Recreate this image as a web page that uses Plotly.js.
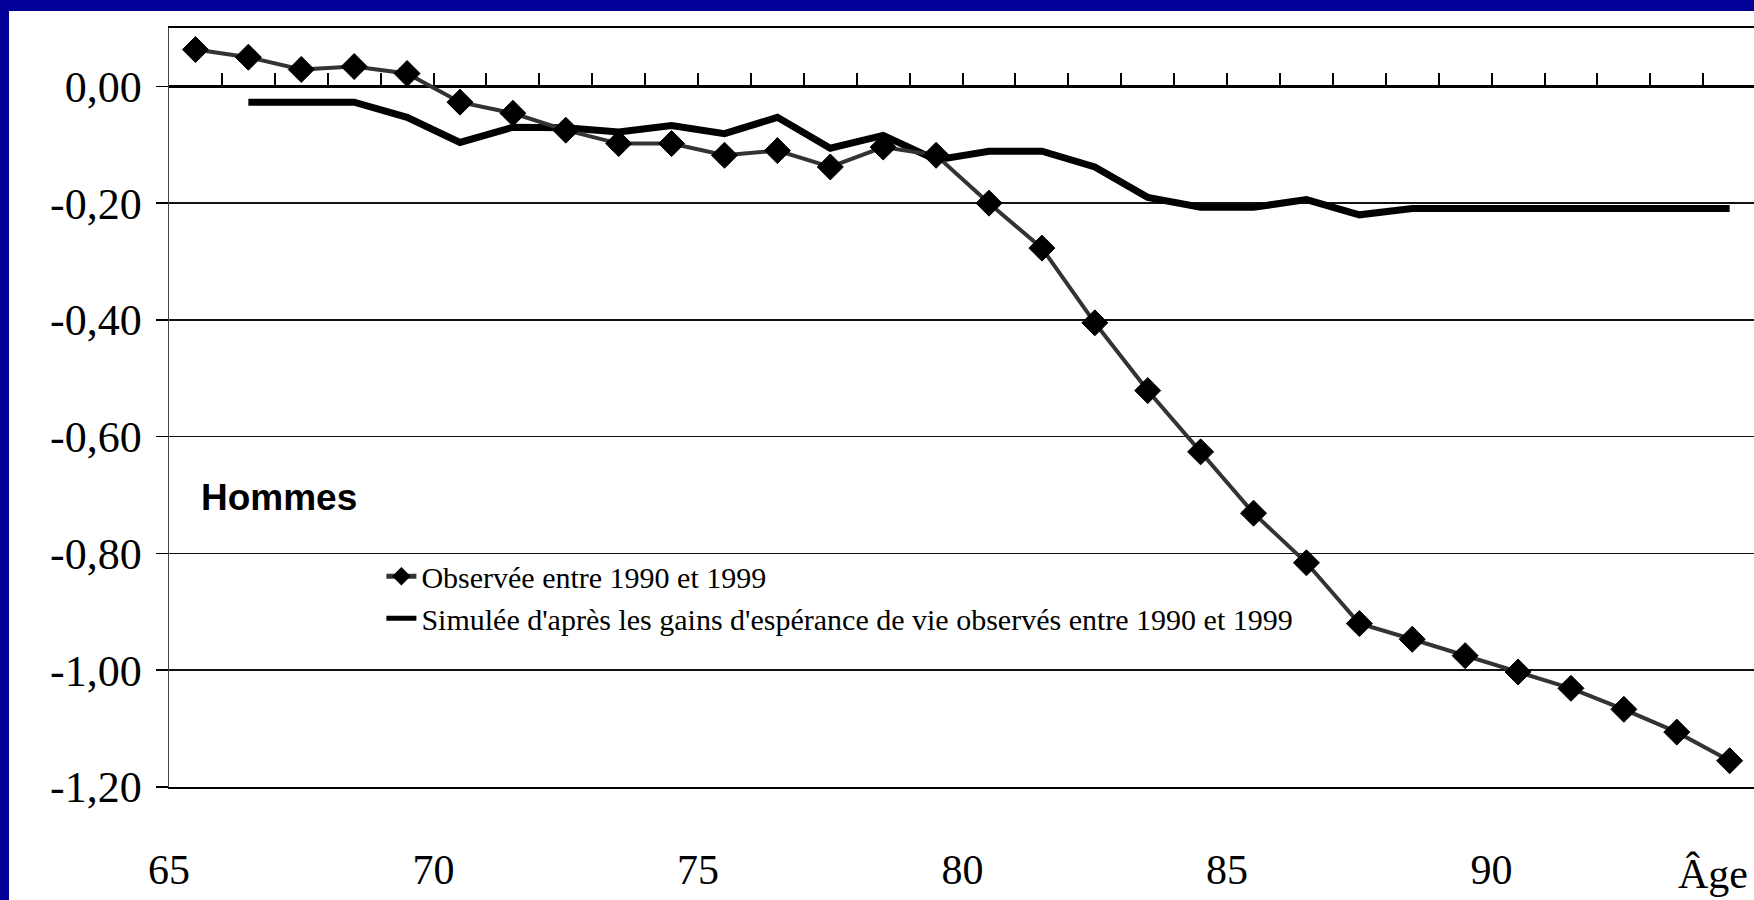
<!DOCTYPE html>
<html>
<head>
<meta charset="utf-8">
<script src="https://cdn.plot.ly/plotly-3.0.1.min.js"></script>
<style>
  html, body { margin: 0; padding: 0; background: #000099; width: 1754px; height: 900px; overflow: hidden; }
  #chart { position: absolute; left: 9px; top: 11px; width: 1745px; height: 889px; background: #fff; }
</style>
</head>
<body>
<div id="chart"></div>
<script>
// Data
const ages = [65,66,67,68,69,70,71,72,73,74,75,76,77,78,79,80,81,82,83,84,85,86,87,88,89,90,91,92,93,94];
const observed = [0.063,0.050,0.029,0.034,0.022,-0.027,-0.046,-0.075,-0.098,-0.098,-0.118,-0.110,-0.138,-0.104,-0.118,
                  -0.200,-0.277,-0.405,-0.521,-0.626,-0.731,-0.816,-0.920,-0.947,-0.975,-1.003,-1.031,-1.067,-1.106,-1.155];
const simulated = [null,-0.027,-0.027,-0.027,-0.053,-0.096,-0.070,-0.071,-0.078,-0.067,-0.081,-0.053,-0.106,-0.084,-0.126,
                   -0.111,-0.111,-0.138,-0.190,-0.207,-0.207,-0.194,-0.220,-0.209,-0.209,-0.209,-0.209,-0.209,-0.209,-0.209];
const xTickLabels = ['65','70','75','80','85','90'];
const yTickValues = [0,-0.2,-0.4,-0.6,-0.8,-1.0,-1.2];
const yTickLabels = ['0,00','-0,20','-0,40','-0,60','-0,80','-1,00','-1,20'];
const seriesNames = ["Observée entre 1990 et 1999",
                     "Simulée d'après les gains d'espérance de vie observés entre 1990 et 1999"];
const panelLabel = 'Hommes';
const axisLabel = 'Âge';

const serif = 'Liberation Serif, Times New Roman, serif';
const xRange = [64.5, 94.46];
const yRange = [-1.2, 0.1];
const boundaries = ages.map(a => a + 0.5);

const traces = [
  {
    x: ages, y: observed, name: seriesNames[0], type: 'scatter', mode: 'lines+markers',
    xaxis: 'x2', yaxis: 'y', legendgroup: 'a',
    line: {color: '#333333', width: 4},
    marker: {symbol: 'diamond', size: 20, color: '#000', line: {color: '#000', width: 1}}
  },
  {
    x: ages, y: simulated, name: seriesNames[1], type: 'scatter', mode: 'lines',
    xaxis: 'x', yaxis: 'y', legendgroup: 'b', connectgaps: false,
    line: {color: '#000', width: 7}
  }
];

const layout = {
  width: 1745, height: 889,
  margin: {l: 160, r: 0, t: 17, b: 113, pad: 0},
  paper_bgcolor: '#ffffff', plot_bgcolor: '#ffffff',
  showlegend: true,
  legend: {
    x: 0.134, y: 0.312, xanchor: 'left', yanchor: 'top',
    bgcolor: 'rgba(0,0,0,0)', borderwidth: 0,
    font: {family: serif, size: 30, color: '#000'},
    traceorder: 'grouped', tracegroupgap: 0, itemsizing: 'constant'
  },
  xaxis: {
    range: xRange, showgrid: false, zeroline: false,
    showline: true, mirror: true, linecolor: '#000', linewidth: 2,
    ticks: '', tickmode: 'array',
    tickvals: xTickLabels.map(v => Number(v) - 0.5), ticktext: xTickLabels,
    ticklabelstandoff: 45,
    tickfont: {family: serif, size: 42, color: '#000'},
    fixedrange: true
  },
  xaxis2: {
    range: xRange, overlaying: 'x', anchor: 'free',
    position: (0 - yRange[0]) / (yRange[1] - yRange[0]),
    side: 'bottom', showgrid: false, zeroline: false, showline: false,
    ticks: 'inside', ticklen: 13, tickwidth: 2, tickcolor: '#000',
    tickmode: 'array', tickvals: boundaries, showticklabels: false,
    fixedrange: true
  },
  yaxis: {
    range: yRange, tickmode: 'array', tickvals: yTickValues, ticktext: yTickLabels,
    showgrid: true, gridcolor: '#111', gridwidth: 1.5,
    zeroline: true, zerolinecolor: '#000', zerolinewidth: 2.5,
    showline: true, linecolor: '#444', linewidth: 1.5,
    ticks: 'outside', ticklen: 12, tickwidth: 1.5, tickcolor: '#000',
    ticklabelstandoff: 5,
    tickfont: {family: serif, size: 44, color: '#000'},
    fixedrange: true
  },
  annotations: [
    {
      text: '<b>' + panelLabel + '</b>', xref: 'paper', yref: 'paper',
      x: 0.0189, y: 0.382, xanchor: 'left', yanchor: 'middle', showarrow: false,
      font: {family: 'Liberation Sans, Arial, sans-serif', size: 37, color: '#000'}
    },
    {
      text: axisLabel, xref: 'x', yref: 'paper',
      x: 93.69, y: -0.115, xanchor: 'center', yanchor: 'middle', showarrow: false,
      font: {family: serif, size: 42, color: '#000'}
    }
  ]
};

Plotly.newPlot('chart', traces, layout, {displayModeBar: false, staticPlot: true});
</script>
</body>
</html>
